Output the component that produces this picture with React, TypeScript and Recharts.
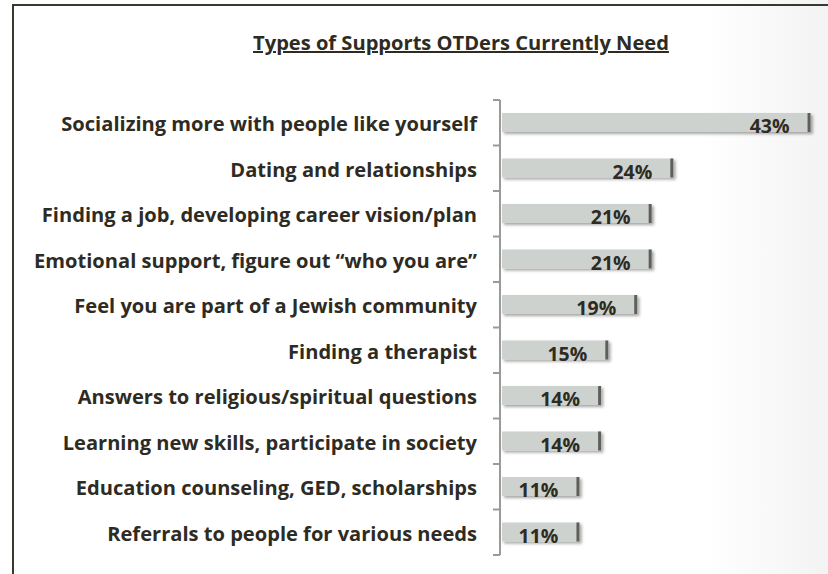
import { Bar, BarChart, LabelList, XAxis, YAxis } from "recharts";

const categories = [
  "Socializing more with people like yourself",
  "Dating and relationships",
  "Finding a job, developing career vision/plan",
  "Emotional support, figure out \u201cwho you are\u201d",
  "Feel you are part of a Jewish community",
  "Finding a therapist",
  "Answers to religious/spiritual questions",
  "Learning new skills, participate in society",
  "Education counseling, GED, scholarships",
  "Referrals to people for various needs",
];
const percents = [43, 24, 21, 21, 19, 15, 14, 14, 11, 11];

const chartData = categories.map((name, i) => ({ name, value: percents[i] }));

const INK = "#2e2b22";
const FONT = "'Open Sans', sans-serif";
const TOP = 100;
const BOTTOM = 19;
const BAND = (574 - TOP - BOTTOM) / categories.length;

function CategoryTick(props: any) {
  const { x, y, payload, index } = props;
  const last = index === categories.length - 1;
  return (
    <g>
      <line x1={500} x2={493} y1={y - BAND / 2} y2={y - BAND / 2} stroke="#9a9a9a" strokeWidth={2} />
      {last && (
        <line x1={500} x2={493} y1={y + BAND / 2} y2={y + BAND / 2} stroke="#9a9a9a" strokeWidth={2} />
      )}
      <text
        x={x - 15}
        y={y + 1}
        textAnchor="end"
        dominantBaseline="central"
        fontFamily={FONT}
        fontWeight={700}
        fontSize={20.1}
        fill={INK}
      >
        {payload.value}
      </text>
    </g>
  );
}

function ShadedBar(props: any) {
  const { x, y, width, height } = props;
  return (
    <g filter="url(#barShadow)">
      <rect x={x + 2} y={y} width={width - 2} height={height} fill="#cdd2cf" />
      <rect x={x + width - 3} y={y} width={3} height={height} fill="#5f5f5a" />
    </g>
  );
}

function ValueLabel(props: any) {
  const { x, y, width, height, value } = props;
  return (
    <text
      x={x + width - 21}
      y={y + height / 2 + 3}
      textAnchor="end"
      dominantBaseline="central"
      fontFamily={FONT}
      fontWeight={700}
      fontSize={19.5}
      fill={INK}
    >
      {value}%
    </text>
  );
}

export default function App() {
  return (
    <div
      style={{
        position: "fixed",
        left: 0,
        top: 0,
        width: 828,
        height: 574,
        background: "linear-gradient(to right, #ffffff 85%, #f3f3f3 100%)",
        overflow: "hidden",
      }}
    >
      <div
        style={{
          position: "absolute",
          left: 12,
          top: 4,
          right: -4,
          bottom: -4,
          borderLeft: "2px solid #3a372d",
          borderTop: "2px solid #3a372d",
        }}
      />
      <div
        style={{
          position: "absolute",
          left: 0,
          width: 922,
          top: 29,
          textAlign: "center",
          fontFamily: FONT,
          fontWeight: 700,
          fontSize: 20.1,
          color: INK,
          textDecoration: "underline",
          textDecorationThickness: 2,
          whiteSpace: "nowrap",
        }}
      >
        Types of Supports OTDers Currently Need
      </div>
      <BarChart
        width={828}
        height={574}
        data={chartData}
        layout="vertical"
        margin={{ top: TOP, right: 3, bottom: BOTTOM, left: 0 }}
        style={{ position: "absolute", left: 0, top: 0 }}
      >
        <defs>
          <filter id="barShadow" x="-5%" y="-30%" width="115%" height="190%">
            <feDropShadow dx={2} dy={2} stdDeviation={1.6} floodColor="#000" floodOpacity={0.35} />
          </filter>
        </defs>
        <XAxis type="number" domain={[0, 45]} hide />
        <YAxis
          type="category"
          dataKey="name"
          width={500}
          tickLine={false}
          axisLine={{ stroke: "#9a9a9a", strokeWidth: 2 }}
          tick={<CategoryTick />}
          interval={0}
        />
        <Bar dataKey="value" barSize={19} shape={<ShadedBar />} isAnimationActive={false}>
          <LabelList dataKey="value" content={<ValueLabel />} />
        </Bar>
      </BarChart>
    </div>
  );
}
